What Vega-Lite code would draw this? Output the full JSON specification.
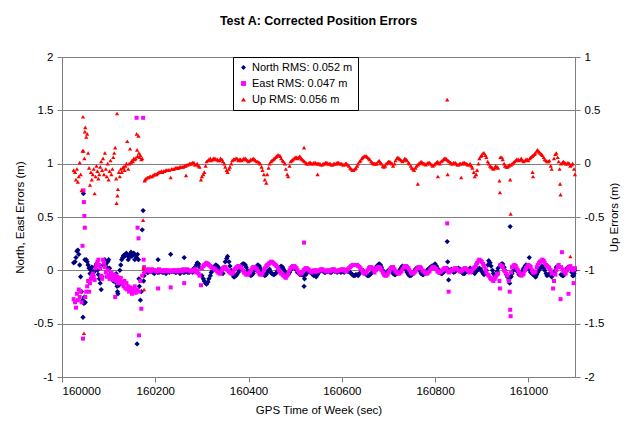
{
  "$schema": "https://vega.github.io/schema/vega-lite/v6.json",
  "width": 513,
  "height": 320,
  "autosize": "none",
  "padding": {"left": 62, "top": 57, "right": 54, "bottom": 50},
  "background": "white",
  "title": {"text": "Test A: Corrected Position Errors", "font": "Liberation Sans", "fontSize": 12.5, "fontWeight": "bold", "color": "black", "anchor": "middle", "offset": 24},
  "config": {
    "view": {"stroke": "#808080", "strokeWidth": 1},
    "axis": {"labelFont": "Liberation Sans", "labelFontSize": 11.5, "labelColor": "black", "titleFont": "Liberation Sans", "titleFontSize": 11.5, "titleFontWeight": "normal", "titleColor": "black", "domainColor": "#808080", "tickColor": "#808080", "tickSize": 5, "gridColor": "#808080", "gridWidth": 1}
  },
  "data": {"values": [
    {"t":160025,"n":0.07,"e":-0.27,"u":-0.06},
    {"t":160028,"n":0.08,"e":-0.30,"u":-0.08},
    {"t":160030,"n":0.12,"e":-0.35,"u":-0.15},
    {"t":160032,"n":0.18,"e":-0.22,"u":-0.05},
    {"t":160034,"n":0.19,"e":-0.28,"u":-0.17},
    {"t":160036,"n":0.15,"e":-0.18,"u":-0.12},
    {"t":160038,"n":0.05,"e":-0.25,"u":0.01},
    {"t":160040,"n":-0.06,"e":-0.2,"u":-0.1},
    {"t":160042,"n":-0.2,"e":-0.3,"u":-0.25},
    {"t":160044,"n":-0.28,"e":0.23,"u":0.12},
    {"t":160045,"n":-0.44,"e":-0.64,"u":0.44},
    {"t":160046,"n":0.72,"e":0.75,"u":0.12},
    {"t":160047,"n":-0.31,"e":0.64,"u":-1.59},
    {"t":160048,"n":-0.25,"e":0.51,"u":0.05},
    {"t":160049,"n":0.1,"e":0.4,"u":0.3},
    {"t":160050,"n":-0.3,"e":-0.25,"u":0.34},
    {"t":160052,"n":0.1,"e":-0.2,"u":0.25},
    {"t":160054,"n":0.08,"e":-0.15,"u":0.28},
    {"t":160056,"n":0.05,"e":-0.1,"u":0.1},
    {"t":160058,"n":0.02,"e":-0.2,"u":-0.04},
    {"t":160060,"n":-0.03,"e":-0.12,"u":-0.2},
    {"t":160062,"n":0.0,"e":-0.08,"u":-0.08},
    {"t":160064,"n":0.03,"e":-0.05,"u":-0.15},
    {"t":160066,"n":-0.05,"e":-0.03,"u":-0.1},
    {"t":160068,"n":-0.02,"e":-0.06,"u":-0.05},
    {"t":160070,"n":0.0,"e":-0.09,"u":-0.28},
    {"t":160072,"n":0.04,"e":0.02,"u":-0.12},
    {"t":160074,"n":0.06,"e":0.05,"u":-0.02},
    {"t":160076,"n":0.0,"e":0.08,"u":-0.07},
    {"t":160078,"n":-0.04,"e":0.1,"u":-0.14},
    {"t":160080,"n":-0.08,"e":0.05,"u":-0.1},
    {"t":160082,"n":-0.12,"e":0.02,"u":-0.03},
    {"t":160084,"n":-0.18,"e":-0.05,"u":0.02},
    {"t":160086,"n":-0.06,"e":-0.08,"u":-0.06},
    {"t":160088,"n":0.05,"e":0.1,"u":0.05},
    {"t":160090,"n":0.08,"e":0.07,"u":-0.1},
    {"t":160092,"n":0.1,"e":0.03,"u":0.1},
    {"t":160094,"n":0.06,"e":-0.02,"u":-0.05},
    {"t":160096,"n":0.03,"e":-0.06,"u":-0.12},
    {"t":160098,"n":0.08,"e":0.0,"u":0.0},
    {"t":160100,"n":0.1,"e":-0.04,"u":-0.15},
    {"t":160102,"n":0.02,"e":-0.08,"u":-0.07},
    {"t":160104,"n":-0.03,"e":-0.05,"u":0.03},
    {"t":160106,"n":-0.06,"e":-0.02,"u":-0.1},
    {"t":160108,"n":-0.08,"e":-0.07,"u":-0.05},
    {"t":160110,"n":-0.1,"e":-0.09,"u":0.06},
    {"t":160112,"n":-0.05,"e":-0.04,"u":0.1},
    {"t":160114,"n":-0.09,"e":-0.25,"u":0.15},
    {"t":160116,"n":-0.03,"e":-0.05,"u":-0.14},
    {"t":160117,"n":-0.12,"e":-0.08,"u":-0.37},
    {"t":160118,"n":-0.15,"e":-0.1,"u":0.47},
    {"t":160119,"n":-0.2,"e":-0.06,"u":-0.3},
    {"t":160120,"n":-0.22,"e":-0.12,"u":-0.24},
    {"t":160122,"n":-0.14,"e":-0.08,"u":-0.08},
    {"t":160124,"n":0.0,"e":-0.1,"u":-0.12},
    {"t":160126,"n":0.05,"e":-0.07,"u":-0.05},
    {"t":160128,"n":0.1,"e":-0.11,"u":-0.08},
    {"t":160130,"n":0.12,"e":-0.13,"u":-0.04},
    {"t":160132,"n":0.14,"e":-0.15,"u":-0.03},
    {"t":160134,"n":0.13,"e":-0.1,"u":-0.06},
    {"t":160136,"n":0.15,"e":-0.17,"u":-0.02},
    {"t":160138,"n":0.16,"e":-0.12,"u":0.0},
    {"t":160140,"n":0.14,"e":-0.18,"u":0.21},
    {"t":160142,"n":0.1,"e":-0.15,"u":-0.05},
    {"t":160144,"n":0.12,"e":-0.2,"u":0.0},
    {"t":160146,"n":0.15,"e":-0.16,"u":0.14},
    {"t":160148,"n":0.17,"e":-0.19,"u":0.01},
    {"t":160150,"n":0.13,"e":-0.22,"u":0.03},
    {"t":160152,"n":0.15,"e":-0.17,"u":0.02},
    {"t":160154,"n":0.16,"e":-0.2,"u":0.05},
    {"t":160156,"n":0.1,"e":-0.15,"u":0.04},
    {"t":160158,"n":0.14,"e":-0.21,"u":0.05},
    {"t":160160,"n":0.12,"e":1.43,"u":0.28},
    {"t":160161,"n":-0.69,"e":-0.18,"u":0.13},
    {"t":160162,"n":0.15,"e":0.4,"u":0.07},
    {"t":160164,"n":0.1,"e":0.3,"u":0.26},
    {"t":160165,"n":-0.08,"e":-0.61,"u":0.1},
    {"t":160166,"n":-0.15,"e":-0.2,"u":0.06},
    {"t":160168,"n":-0.28,"e":-0.1,"u":0.08},
    {"t":160170,"n":-0.2,"e":-0.36,"u":0.04},
    {"t":160172,"n":0.38,"e":-0.05,"u":0.05},
    {"t":160174,"n":0.56,"e":1.43,"u":-0.53},
    {"t":160175,"n":-0.1,"e":0.1,"u":-0.98},
    {"t":160176,"n":-0.05,"e":0.03,"u":-1.18},
    {"t":160177,"n":-0.02,"e":-0.02,"u":-0.16},
    {"t":160178,"n":0.0,"e":0.0,"u":-0.15},
    {"t":160180,"n":-0.01,"e":0.0,"u":-0.14},
    {"t":160185,"n":-0.02,"e":0.01,"u":-0.13},
    {"t":160190,"n":-0.01,"e":-0.01,"u":-0.12},
    {"t":160195,"n":-0.02,"e":0.0,"u":-0.11},
    {"t":160200,"n":-0.01,"e":0.0,"u":-0.1},
    {"t":160205,"n":-0.02,"e":-0.01,"u":-0.09},
    {"t":160210,"n":-0.01,"e":0.0,"u":-0.08},
    {"t":160215,"n":-0.02,"e":0.0,"u":-0.08},
    {"t":160220,"n":-0.01,"e":-0.01,"u":-0.07},
    {"t":160225,"n":-0.01,"e":0.0,"u":-0.06},
    {"t":160230,"n":-0.02,"e":0.0,"u":-0.06},
    {"t":160235,"n":-0.01,"e":-0.01,"u":-0.05},
    {"t":160240,"n":-0.01,"e":0.0,"u":-0.05},
    {"t":160245,"n":-0.02,"e":0.0,"u":-0.04},
    {"t":160250,"n":-0.01,"e":-0.01,"u":-0.04},
    {"t":160255,"n":-0.01,"e":0.0,"u":-0.03},
    {"t":160260,"n":-0.02,"e":0.01,"u":-0.03},
    {"t":160265,"n":-0.01,"e":0.0,"u":-0.02},
    {"t":160270,"n":-0.02,"e":0.0,"u":-0.01},
    {"t":160275,"n":-0.01,"e":-0.01,"u":0.0},
    {"t":160280,"n":-0.02,"e":0.0,"u":0.01},
    {"t":160285,"n":0.0,"e":0.01,"u":-0.01},
    {"t":160290,"n":0.07,"e":0.0,"u":0.0},
    {"t":160295,"n":0.03,"e":-0.05,"u":-0.03},
    {"t":160300,"n":-0.05,"e":0.02,"u":-0.12},
    {"t":160305,"n":-0.1,"e":0.05,"u":-0.08},
    {"t":160310,"n":-0.13,"e":0.07,"u":0.02},
    {"t":160315,"n":-0.08,"e":0.05,"u":0.04},
    {"t":160320,"n":-0.02,"e":0.03,"u":0.03},
    {"t":160325,"n":0.03,"e":0.02,"u":0.05},
    {"t":160330,"n":0.05,"e":0.0,"u":0.04},
    {"t":160335,"n":0.03,"e":-0.02,"u":0.03},
    {"t":160340,"n":0.0,"e":-0.03,"u":0.05},
    {"t":160345,"n":-0.03,"e":0.02,"u":0.02},
    {"t":160350,"n":0.08,"e":0.03,"u":-0.03},
    {"t":160355,"n":0.13,"e":0.0,"u":-0.08},
    {"t":160360,"n":0.04,"e":-0.02,"u":-0.03},
    {"t":160365,"n":-0.03,"e":-0.03,"u":0.03},
    {"t":160370,"n":-0.06,"e":0.01,"u":0.04},
    {"t":160375,"n":-0.04,"e":0.03,"u":0.05},
    {"t":160380,"n":0.0,"e":0.04,"u":0.04},
    {"t":160385,"n":0.05,"e":0.02,"u":0.03},
    {"t":160390,"n":0.06,"e":-0.02,"u":0.05},
    {"t":160395,"n":0.03,"e":-0.04,"u":0.04},
    {"t":160400,"n":-0.02,"e":-0.03,"u":0.02},
    {"t":160405,"n":-0.05,"e":0.0,"u":0.04},
    {"t":160410,"n":-0.03,"e":0.03,"u":0.05},
    {"t":160415,"n":0.02,"e":0.02,"u":0.03},
    {"t":160420,"n":0.05,"e":-0.01,"u":0.02},
    {"t":160425,"n":0.02,"e":-0.04,"u":0.0},
    {"t":160430,"n":-0.03,"e":-0.03,"u":-0.06},
    {"t":160435,"n":-0.05,"e":0.02,"u":-0.15},
    {"t":160440,"n":-0.02,"e":0.05,"u":-0.1},
    {"t":160445,"n":0.01,"e":0.07,"u":0.0},
    {"t":160450,"n":-0.03,"e":0.08,"u":0.03},
    {"t":160455,"n":-0.04,"e":0.06,"u":0.05},
    {"t":160460,"n":-0.02,"e":0.04,"u":0.07},
    {"t":160465,"n":0.02,"e":0.0,"u":0.08},
    {"t":160470,"n":0.04,"e":-0.03,"u":0.05},
    {"t":160475,"n":0.01,"e":-0.05,"u":0.02},
    {"t":160480,"n":-0.03,"e":-0.07,"u":-0.05},
    {"t":160485,"n":-0.04,"e":-0.03,"u":-0.12},
    {"t":160490,"n":0.0,"e":0.02,"u":0.02},
    {"t":160495,"n":0.03,"e":0.04,"u":0.04},
    {"t":160500,"n":0.02,"e":0.03,"u":0.06},
    {"t":160505,"n":-0.02,"e":0.0,"u":0.05},
    {"t":160510,"n":-0.04,"e":-0.03,"u":0.07},
    {"t":160515,"n":-0.03,"e":-0.02,"u":0.04},
    {"t":160520,"n":-0.08,"e":0.01,"u":0.02},
    {"t":160525,"n":-0.02,"e":0.02,"u":0.0},
    {"t":160530,"n":0.0,"e":0.0,"u":0.01},
    {"t":160535,"n":-0.03,"e":-0.02,"u":0.0},
    {"t":160540,"n":-0.05,"e":0.0,"u":0.01},
    {"t":160545,"n":-0.06,"e":-0.01,"u":0.0},
    {"t":160550,"n":-0.02,"e":0.0,"u":0.0},
    {"t":160555,"n":0.0,"e":0.01,"u":-0.01},
    {"t":160560,"n":-0.01,"e":0.0,"u":0.0},
    {"t":160565,"n":-0.02,"e":-0.01,"u":0.01},
    {"t":160570,"n":-0.01,"e":0.0,"u":0.0},
    {"t":160575,"n":-0.02,"e":-0.01,"u":0.0},
    {"t":160580,"n":0.0,"e":0.01,"u":-0.01},
    {"t":160585,"n":-0.01,"e":0.0,"u":0.0},
    {"t":160590,"n":-0.02,"e":-0.01,"u":0.01},
    {"t":160595,"n":0.0,"e":0.0,"u":0.0},
    {"t":160600,"n":-0.01,"e":0.01,"u":0.0},
    {"t":160605,"n":-0.02,"e":0.0,"u":-0.01},
    {"t":160610,"n":0.0,"e":-0.01,"u":0.0},
    {"t":160615,"n":-0.01,"e":0.02,"u":-0.02},
    {"t":160620,"n":-0.03,"e":0.04,"u":-0.05},
    {"t":160625,"n":-0.05,"e":0.05,"u":-0.06},
    {"t":160630,"n":-0.04,"e":0.05,"u":-0.04},
    {"t":160635,"n":-0.05,"e":0.04,"u":0.0},
    {"t":160640,"n":-0.02,"e":0.02,"u":0.03},
    {"t":160645,"n":0.0,"e":-0.02,"u":0.06},
    {"t":160650,"n":-0.03,"e":-0.03,"u":0.07},
    {"t":160655,"n":-0.05,"e":0.0,"u":0.06},
    {"t":160660,"n":-0.04,"e":0.03,"u":0.04},
    {"t":160665,"n":-0.02,"e":0.02,"u":0.01},
    {"t":160670,"n":0.0,"e":-0.02,"u":0.0},
    {"t":160675,"n":0.04,"e":0.02,"u":0.0},
    {"t":160680,"n":0.06,"e":0.03,"u":0.03},
    {"t":160685,"n":0.03,"e":0.0,"u":0.0},
    {"t":160690,"n":-0.02,"e":-0.04,"u":-0.03},
    {"t":160695,"n":-0.03,"e":-0.05,"u":0.0},
    {"t":160700,"n":0.0,"e":-0.02,"u":0.02},
    {"t":160705,"n":0.02,"e":0.02,"u":0.01},
    {"t":160710,"n":-0.03,"e":0.03,"u":-0.02},
    {"t":160715,"n":-0.04,"e":-0.01,"u":0.03},
    {"t":160720,"n":-0.02,"e":-0.03,"u":0.06},
    {"t":160725,"n":0.01,"e":-0.02,"u":0.04},
    {"t":160730,"n":0.04,"e":0.01,"u":0.02},
    {"t":160735,"n":0.02,"e":0.04,"u":0.05},
    {"t":160740,"n":-0.02,"e":0.03,"u":0.03},
    {"t":160745,"n":-0.05,"e":0.0,"u":0.0},
    {"t":160750,"n":-0.04,"e":-0.03,"u":-0.04},
    {"t":160755,"n":-0.01,"e":-0.02,"u":-0.06},
    {"t":160760,"n":0.02,"e":0.01,"u":-0.02},
    {"t":160765,"n":0.01,"e":0.03,"u":0.0},
    {"t":160770,"n":-0.03,"e":0.02,"u":0.02},
    {"t":160775,"n":-0.04,"e":-0.01,"u":0.0},
    {"t":160780,"n":-0.02,"e":-0.03,"u":-0.01},
    {"t":160785,"n":0.01,"e":-0.02,"u":0.01},
    {"t":160790,"n":0.03,"e":0.01,"u":0.0},
    {"t":160795,"n":0.04,"e":0.03,"u":-0.02},
    {"t":160800,"n":0.06,"e":0.02,"u":0.0},
    {"t":160805,"n":0.02,"e":-0.01,"u":0.02},
    {"t":160810,"n":-0.02,"e":-0.02,"u":0.0},
    {"t":160815,"n":-0.03,"e":0.0,"u":0.03},
    {"t":160820,"n":0.0,"e":0.02,"u":0.05},
    {"t":160825,"n":0.02,"e":0.01,"u":0.04},
    {"t":160830,"n":-0.01,"e":-0.02,"u":0.02},
    {"t":160835,"n":0.01,"e":0.0,"u":0.0},
    {"t":160840,"n":-0.02,"e":0.01,"u":0.01},
    {"t":160845,"n":0.0,"e":0.02,"u":0.0},
    {"t":160850,"n":0.02,"e":0.0,"u":-0.01},
    {"t":160855,"n":-0.01,"e":-0.01,"u":0.0},
    {"t":160860,"n":-0.03,"e":0.01,"u":0.01},
    {"t":160865,"n":-0.02,"e":0.02,"u":0.0},
    {"t":160870,"n":0.0,"e":0.0,"u":-0.01},
    {"t":160875,"n":0.02,"e":-0.02,"u":0.0},
    {"t":160880,"n":-0.01,"e":0.01,"u":-0.04},
    {"t":160885,"n":-0.03,"e":0.03,"u":-0.12},
    {"t":160890,"n":0.0,"e":0.07,"u":-0.06},
    {"t":160895,"n":0.02,"e":0.1,"u":0.05},
    {"t":160900,"n":-0.01,"e":0.08,"u":0.08},
    {"t":160905,"n":-0.04,"e":0.04,"u":0.1},
    {"t":160910,"n":0.0,"e":-0.02,"u":0.06},
    {"t":160915,"n":0.09,"e":-0.05,"u":0.0},
    {"t":160920,"n":0.04,"e":-0.08,"u":-0.03},
    {"t":160925,"n":-0.03,"e":-0.1,"u":-0.05},
    {"t":160930,"n":-0.05,"e":-0.06,"u":-0.02},
    {"t":160935,"n":0.02,"e":-0.03,"u":-0.04},
    {"t":160940,"n":0.05,"e":0.05,"u":0.06},
    {"t":160945,"n":0.06,"e":0.03,"u":0.04},
    {"t":160950,"n":0.0,"e":-0.01,"u":-0.02},
    {"t":160955,"n":-0.06,"e":-0.05,"u":-0.03},
    {"t":160960,"n":-0.12,"e":-0.2,"u":-0.01},
    {"t":160965,"n":-0.03,"e":0.03,"u":0.0},
    {"t":160970,"n":0.02,"e":0.05,"u":0.02},
    {"t":160975,"n":0.0,"e":0.02,"u":0.04},
    {"t":160980,"n":-0.04,"e":-0.02,"u":0.03},
    {"t":160985,"n":-0.03,"e":-0.05,"u":0.05},
    {"t":160990,"n":0.02,"e":-0.03,"u":0.02},
    {"t":160995,"n":0.05,"e":0.02,"u":0.04},
    {"t":161000,"n":0.03,"e":0.05,"u":0.03},
    {"t":161005,"n":-0.02,"e":0.03,"u":0.06},
    {"t":161010,"n":-0.04,"e":-0.02,"u":0.08},
    {"t":161015,"n":-0.06,"e":-0.01,"u":0.1},
    {"t":161020,"n":-0.02,"e":0.05,"u":0.13},
    {"t":161025,"n":0.02,"e":0.08,"u":0.1},
    {"t":161030,"n":0.04,"e":0.1,"u":0.08},
    {"t":161035,"n":0.0,"e":0.07,"u":0.04},
    {"t":161040,"n":-0.05,"e":0.04,"u":0.02},
    {"t":161045,"n":-0.03,"e":0.02,"u":0.03},
    {"t":161050,"n":-0.06,"e":-0.03,"u":-0.05},
    {"t":161055,"n":-0.02,"e":-0.1,"u":0.05},
    {"t":161060,"n":0.03,"e":0.0,"u":0.1},
    {"t":161065,"n":0.04,"e":0.05,"u":0.02},
    {"t":161070,"n":-0.04,"e":0.03,"u":0.0},
    {"t":161075,"n":-0.05,"e":0.0,"u":0.02},
    {"t":161080,"n":0.0,"e":-0.03,"u":0.0},
    {"t":161085,"n":0.03,"e":0.02,"u":0.01},
    {"t":161090,"n":0.02,"e":0.04,"u":-0.02},
    {"t":161095,"n":-0.05,"e":0.0,"u":0.0},
    {"t":161100,"n":0.0,"e":0.02,"u":-0.1},
    {"t":160183,"n":-0.02,"e":0.0,"u":-0.13},
    {"t":160188,"n":0.0,"e":-0.01,"u":-0.12},
    {"t":160193,"n":-0.01,"e":0.01,"u":-0.12},
    {"t":160198,"n":-0.03,"e":0.0,"u":-0.1},
    {"t":160203,"n":-0.01,"e":-0.01,"u":-0.1},
    {"t":160208,"n":-0.02,"e":0.01,"u":-0.08},
    {"t":160213,"n":-0.01,"e":-0.01,"u":-0.07},
    {"t":160218,"n":-0.02,"e":0.0,"u":-0.07},
    {"t":160223,"n":-0.03,"e":0.0,"u":-0.06},
    {"t":160228,"n":-0.01,"e":-0.01,"u":-0.06},
    {"t":160238,"n":-0.01,"e":0.0,"u":-0.05},
    {"t":160243,"n":-0.02,"e":-0.01,"u":-0.04},
    {"t":160248,"n":-0.01,"e":0.0,"u":-0.04},
    {"t":160253,"n":-0.03,"e":0.0,"u":-0.03},
    {"t":160258,"n":-0.01,"e":-0.01,"u":-0.03},
    {"t":160263,"n":-0.02,"e":0.0,"u":-0.02},
    {"t":160268,"n":-0.01,"e":0.01,"u":-0.01},
    {"t":160273,"n":-0.02,"e":0.0,"u":0.0},
    {"t":160278,"n":-0.01,"e":-0.01,"u":0.0},
    {"t":160283,"n":0.02,"e":0.0,"u":0.01},
    {"t":160288,"n":0.05,"e":-0.02,"u":-0.01},
    {"t":160293,"n":0.06,"e":-0.03,"u":-0.02},
    {"t":160303,"n":-0.08,"e":0.04,"u":-0.1},
    {"t":160308,"n":-0.12,"e":0.06,"u":-0.02},
    {"t":160313,"n":-0.11,"e":0.06,"u":0.03},
    {"t":160318,"n":-0.05,"e":0.04,"u":0.05},
    {"t":160323,"n":0.0,"e":0.02,"u":0.04},
    {"t":160328,"n":0.04,"e":0.01,"u":0.05},
    {"t":160333,"n":0.04,"e":-0.01,"u":0.04},
    {"t":160338,"n":0.01,"e":-0.03,"u":0.03},
    {"t":160343,"n":-0.02,"e":0.0,"u":0.04},
    {"t":160348,"n":0.03,"e":0.03,"u":0.0},
    {"t":160353,"n":0.11,"e":0.01,"u":-0.06},
    {"t":160358,"n":0.08,"e":-0.01,"u":-0.05},
    {"t":160363,"n":0.0,"e":-0.03,"u":0.0},
    {"t":160368,"n":-0.06,"e":-0.01,"u":0.04},
    {"t":160373,"n":-0.05,"e":0.02,"u":0.05},
    {"t":160378,"n":-0.02,"e":0.04,"u":0.03},
    {"t":160383,"n":0.03,"e":0.03,"u":0.04},
    {"t":160388,"n":0.06,"e":0.0,"u":0.04},
    {"t":160393,"n":0.05,"e":-0.03,"u":0.05},
    {"t":160398,"n":0.0,"e":-0.04,"u":0.03},
    {"t":160403,"n":-0.04,"e":-0.02,"u":0.03},
    {"t":160408,"n":-0.04,"e":0.02,"u":0.04},
    {"t":160413,"n":0.0,"e":0.03,"u":0.04},
    {"t":160418,"n":0.04,"e":0.01,"u":0.02},
    {"t":160423,"n":0.04,"e":-0.03,"u":0.01},
    {"t":160428,"n":-0.01,"e":-0.04,"u":-0.03},
    {"t":160433,"n":-0.04,"e":0.0,"u":-0.1},
    {"t":160438,"n":-0.04,"e":0.04,"u":-0.18},
    {"t":160443,"n":0.0,"e":0.06,"u":-0.04},
    {"t":160448,"n":-0.02,"e":0.08,"u":0.02},
    {"t":160453,"n":-0.04,"e":0.07,"u":0.04},
    {"t":160458,"n":-0.03,"e":0.05,"u":0.06},
    {"t":160463,"n":0.0,"e":0.02,"u":0.08},
    {"t":160468,"n":0.03,"e":-0.02,"u":0.07},
    {"t":160473,"n":0.03,"e":-0.04,"u":0.03},
    {"t":160478,"n":-0.01,"e":-0.06,"u":0.0},
    {"t":160483,"n":-0.04,"e":-0.05,"u":-0.1},
    {"t":160488,"n":-0.02,"e":0.0,"u":-0.02},
    {"t":160493,"n":0.02,"e":0.03,"u":0.03},
    {"t":160498,"n":0.03,"e":0.04,"u":0.05},
    {"t":160503,"n":0.0,"e":0.02,"u":0.06},
    {"t":160508,"n":-0.03,"e":-0.02,"u":0.06},
    {"t":160513,"n":-0.04,"e":-0.03,"u":0.05},
    {"t":160518,"n":-0.05,"e":0.0,"u":0.03},
    {"t":160523,"n":-0.04,"e":0.02,"u":0.01},
    {"t":160528,"n":-0.01,"e":0.01,"u":0.0},
    {"t":160533,"n":-0.02,"e":-0.01,"u":0.01},
    {"t":160538,"n":-0.04,"e":-0.01,"u":0.0},
    {"t":160543,"n":-0.05,"e":0.0,"u":0.01},
    {"t":160548,"n":-0.04,"e":-0.01,"u":0.0},
    {"t":160553,"n":-0.01,"e":0.0,"u":0.0},
    {"t":160558,"n":0.0,"e":0.01,"u":-0.01},
    {"t":160563,"n":-0.02,"e":0.0,"u":0.0},
    {"t":160568,"n":-0.01,"e":-0.01,"u":0.01},
    {"t":160573,"n":-0.01,"e":0.0,"u":0.0},
    {"t":160578,"n":-0.02,"e":0.0,"u":-0.01},
    {"t":160583,"n":0.0,"e":0.01,"u":0.0},
    {"t":160588,"n":-0.01,"e":-0.01,"u":0.0},
    {"t":160593,"n":-0.01,"e":0.0,"u":0.01},
    {"t":160598,"n":-0.02,"e":0.0,"u":0.0},
    {"t":160603,"n":-0.01,"e":0.01,"u":-0.01},
    {"t":160608,"n":0.0,"e":-0.01,"u":0.0},
    {"t":160613,"n":-0.01,"e":0.01,"u":-0.01},
    {"t":160618,"n":-0.02,"e":0.03,"u":-0.04},
    {"t":160623,"n":-0.04,"e":0.05,"u":-0.06},
    {"t":160628,"n":-0.05,"e":0.05,"u":-0.05},
    {"t":160633,"n":-0.04,"e":0.05,"u":-0.02},
    {"t":160638,"n":-0.03,"e":0.03,"u":0.02},
    {"t":160643,"n":-0.01,"e":0.0,"u":0.05},
    {"t":160648,"n":-0.02,"e":-0.03,"u":0.07},
    {"t":160653,"n":-0.04,"e":-0.02,"u":0.07},
    {"t":160658,"n":-0.05,"e":0.02,"u":0.05},
    {"t":160663,"n":-0.03,"e":0.03,"u":0.02},
    {"t":160668,"n":-0.01,"e":0.0,"u":0.0},
    {"t":160673,"n":0.02,"e":0.0,"u":0.0},
    {"t":160678,"n":0.05,"e":0.03,"u":0.02},
    {"t":160683,"n":0.05,"e":0.02,"u":0.01},
    {"t":160688,"n":0.0,"e":-0.02,"u":-0.02},
    {"t":160693,"n":-0.03,"e":-0.05,"u":-0.02},
    {"t":160698,"n":-0.01,"e":-0.04,"u":0.01},
    {"t":160703,"n":0.01,"e":0.0,"u":0.02},
    {"t":160708,"n":-0.01,"e":0.03,"u":0.0},
    {"t":160713,"n":-0.04,"e":0.01,"u":0.0},
    {"t":160718,"n":-0.03,"e":-0.02,"u":0.05},
    {"t":160723,"n":-0.01,"e":-0.03,"u":0.05},
    {"t":160728,"n":0.03,"e":-0.01,"u":0.03},
    {"t":160733,"n":0.03,"e":0.03,"u":0.03},
    {"t":160738,"n":0.0,"e":0.04,"u":0.04},
    {"t":160743,"n":-0.04,"e":0.02,"u":0.01},
    {"t":160748,"n":-0.05,"e":-0.02,"u":-0.02},
    {"t":160753,"n":-0.03,"e":-0.03,"u":-0.05},
    {"t":160758,"n":0.01,"e":-0.01,"u":-0.04},
    {"t":160763,"n":0.02,"e":0.02,"u":-0.01},
    {"t":160768,"n":-0.01,"e":0.03,"u":0.01},
    {"t":160773,"n":-0.04,"e":0.0,"u":0.01},
    {"t":160778,"n":-0.03,"e":-0.02,"u":0.0},
    {"t":160783,"n":0.0,"e":-0.03,"u":0.0},
    {"t":160788,"n":0.02,"e":-0.01,"u":0.01},
    {"t":160793,"n":0.04,"e":0.02,"u":-0.01},
    {"t":160798,"n":0.05,"e":0.03,"u":-0.01},
    {"t":160803,"n":0.04,"e":0.01,"u":0.01},
    {"t":160808,"n":0.0,"e":-0.02,"u":0.01},
    {"t":160813,"n":-0.03,"e":-0.01,"u":0.02},
    {"t":160818,"n":-0.02,"e":0.01,"u":0.04},
    {"t":160823,"n":0.01,"e":0.02,"u":0.05},
    {"t":160828,"n":0.01,"e":-0.01,"u":0.03},
    {"t":160833,"n":0.0,"e":-0.01,"u":0.01},
    {"t":160838,"n":-0.01,"e":0.0,"u":0.0},
    {"t":160843,"n":-0.01,"e":0.02,"u":0.01},
    {"t":160848,"n":0.01,"e":0.01,"u":-0.01},
    {"t":160853,"n":0.01,"e":-0.01,"u":0.0},
    {"t":160858,"n":-0.02,"e":0.0,"u":0.0},
    {"t":160863,"n":-0.03,"e":0.02,"u":0.01},
    {"t":160868,"n":-0.01,"e":0.01,"u":0.0},
    {"t":160873,"n":0.01,"e":-0.01,"u":-0.01},
    {"t":160878,"n":0.01,"e":-0.01,"u":-0.02},
    {"t":160883,"n":-0.02,"e":0.02,"u":-0.08},
    {"t":160888,"n":-0.01,"e":0.05,"u":-0.1},
    {"t":160893,"n":0.01,"e":0.09,"u":0.0},
    {"t":160898,"n":0.01,"e":0.09,"u":0.07},
    {"t":160903,"n":-0.03,"e":0.06,"u":0.1},
    {"t":160908,"n":-0.02,"e":0.01,"u":0.08},
    {"t":160913,"n":0.05,"e":-0.04,"u":0.02},
    {"t":160918,"n":0.07,"e":-0.07,"u":-0.02},
    {"t":160923,"n":0.0,"e":-0.09,"u":-0.04},
    {"t":160928,"n":-0.05,"e":-0.08,"u":-0.04},
    {"t":160933,"n":-0.01,"e":-0.04,"u":-0.03},
    {"t":160943,"n":0.06,"e":0.04,"u":0.06},
    {"t":160948,"n":0.03,"e":0.0,"u":0.0},
    {"t":160953,"n":-0.04,"e":-0.03,"u":-0.03},
    {"t":160958,"n":-0.09,"e":-0.1,"u":-0.02},
    {"t":160963,"n":-0.06,"e":-0.02,"u":-0.01},
    {"t":160968,"n":0.0,"e":0.04,"u":0.01},
    {"t":160973,"n":0.01,"e":0.04,"u":0.03},
    {"t":160978,"n":-0.02,"e":0.0,"u":0.04},
    {"t":160983,"n":-0.04,"e":-0.04,"u":0.04},
    {"t":160988,"n":0.0,"e":-0.04,"u":0.03},
    {"t":160993,"n":0.04,"e":0.0,"u":0.03},
    {"t":160998,"n":0.04,"e":0.04,"u":0.04},
    {"t":161003,"n":0.0,"e":0.04,"u":0.05},
    {"t":161008,"n":-0.03,"e":0.0,"u":0.07},
    {"t":161013,"n":-0.05,"e":-0.02,"u":0.09},
    {"t":161018,"n":-0.04,"e":0.03,"u":0.12},
    {"t":161023,"n":0.0,"e":0.07,"u":0.11},
    {"t":161028,"n":0.03,"e":0.09,"u":0.09},
    {"t":161033,"n":0.02,"e":0.09,"u":0.06},
    {"t":161038,"n":-0.03,"e":0.05,"u":0.03},
    {"t":161043,"n":-0.04,"e":0.03,"u":0.02},
    {"t":161048,"n":-0.05,"e":0.0,"u":-0.02},
    {"t":161058,"n":0.0,"e":-0.04,"u":0.09},
    {"t":161063,"n":0.04,"e":0.03,"u":0.06},
    {"t":161073,"n":-0.05,"e":0.01,"u":0.01},
    {"t":161078,"n":-0.02,"e":-0.02,"u":0.01},
    {"t":161083,"n":0.02,"e":0.0,"u":0.0},
    {"t":161088,"n":0.03,"e":0.03,"u":0.0},
    {"t":161093,"n":-0.02,"e":0.02,"u":-0.01},
    {"t":161098,"n":-0.03,"e":0.01,"u":-0.05},
    {"t":160206,"n":0.1,"e":-0.17},
    {"t":160233,"n":0.15,"e":-0.16,"u":-0.13},
    {"t":160262,"n":0.12,"e":-0.12},
    {"t":160266,"u":-0.11},
    {"t":160298,"e":-0.14,"u":-0.15},
    {"t":160519,"n":-0.15,"e":0.26,"u":0.15},
    {"t":160548,"u":-0.1},
    {"t":160763,"u":-0.19},
    {"t":160806,"u":-0.12},
    {"t":160826,"n":0.27,"e":0.44,"u":0.6},
    {"t":160827,"n":0.08,"u":-0.1},
    {"t":160829,"n":-0.09,"e":-0.2},
    {"t":160856,"u":-0.13},
    {"t":160938,"e":-0.1,"u":-0.16},
    {"t":160939,"e":-0.17,"u":-0.27},
    {"t":160961,"n":0.41,"e":-0.37,"u":-0.15},
    {"t":160962,"n":-0.06,"e":-0.43,"u":-0.47},
    {"t":161002,"n":0.12},
    {"t":161009,"u":-0.08},
    {"t":161010,"u":-0.12},
    {"t":161016,"n":-0.06},
    {"t":161053,"e":-0.17},
    {"t":161067,"u":-0.05},
    {"t":161068,"u":-0.19},
    {"t":161069,"e":-0.27,"u":-0.29},
    {"t":161072,"e":0.17},
    {"t":161086,"e":-0.22},
    {"t":161090,"u":-0.87},
    {"t":161097,"e":-0.12,"n":-0.05}
  ]},
  "encoding": {
    "x": {"field": "t", "type": "quantitative", "scale": {"domain": [160000, 161100], "nice": false, "zero": false},
      "axis": {"title": "GPS Time of Week (sec)", "values": [160000, 160200, 160400, 160600, 160800, 161000], "labelExpr": "'' + datum.value", "grid": false, "labelPadding": 3, "titlePadding": 8}}
  },
  "layer": [
    {
      "encoding": {
        "y": {"field": "v", "type": "quantitative", "scale": {"domain": [-1, 2], "nice": false, "zero": false},
          "axis": {"title": "North, East Errors (m)", "values": [-1, -0.5, 0, 0.5, 1, 1.5, 2], "labelExpr": "'' + datum.value", "grid": true, "labelPadding": 4, "titlePadding": 8}},
        "color": {"field": "s", "type": "nominal", "scale": {"domain": ["n", "e", "u"], "range": ["#000080", "#FF00FF", "#FF0000"]},
          "legend": {"title": null, "orient": "none", "legendX": 171, "legendY": 0, "strokeColor": "black", "fillColor": "white", "padding": 5, "labelFont": "Liberation Sans", "labelFontSize": 11, "labelColor": "black", "rowPadding": 4, "symbolSize": 24, "labelOffset": 3,
            "labelExpr": "datum.label == 'n' ? 'North RMS: 0.052 m' : datum.label == 'e' ? 'East RMS: 0.047 m' : 'Up RMS: 0.056 m'"}},
        "shape": {"field": "s", "type": "nominal", "scale": {"domain": ["n", "e", "u"], "range": ["diamond", "square", "triangle-up"]}}
      },
      "layer": [
        {"transform": [{"fold": ["n"], "as": ["s", "v"]}], "mark": {"type": "point", "filled": true, "opacity": 1, "size": 28}},
        {"transform": [{"fold": ["e"], "as": ["s", "v"]}], "mark": {"type": "point", "filled": true, "opacity": 1, "size": 16}}
      ]
    },
    {
      "transform": [{"fold": ["u"], "as": ["s", "v"]}],
      "mark": {"type": "point", "filled": true, "opacity": 1, "size": 18},
      "encoding": {
        "y": {"field": "v", "type": "quantitative", "scale": {"domain": [-2, 1], "nice": false, "zero": false},
          "axis": {"orient": "right", "title": "Up Errors (m)", "values": [-2, -1.5, -1, -0.5, 0, 0.5, 1], "labelExpr": "'' + datum.value", "grid": false, "labelPadding": 4, "titlePadding": 5, "titleAngle": 270, "titleBaseline": "top"}},
        "color": {"field": "s", "type": "nominal"},
        "shape": {"field": "s", "type": "nominal"}
      }
    }
  ],
  "resolve": {"scale": {"y": "independent"}}
}
